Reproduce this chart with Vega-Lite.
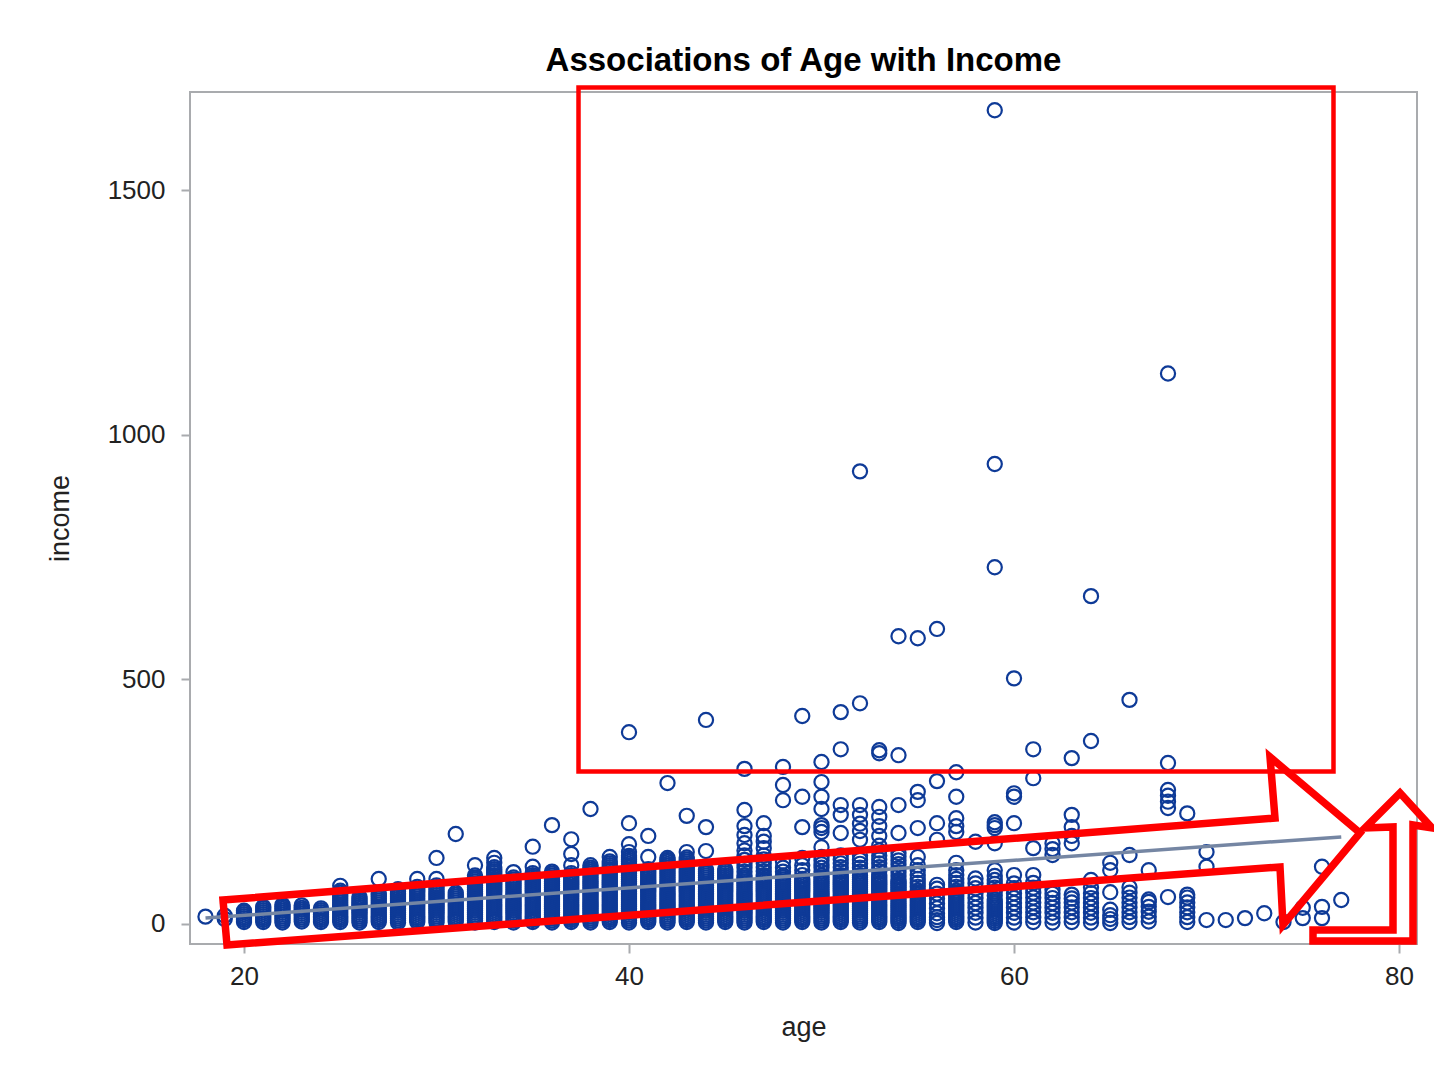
{
"$schema": "https://vega.github.io/schema/vega-lite/v6.json",
"width": 1227, "height": 852,
"autosize": {"type": "none"},
"padding": {"left": 190, "top": 92, "right": 17, "bottom": 124},
"background": "white",
"title": {"text": "Associations of Age with Income", "font": "Liberation Sans", "fontSize": 33, "fontWeight": "bold", "color": "black", "anchor": "middle", "frame": "group", "offset": 0},
"config": {
  "view": {"stroke": "#A9ABAE", "strokeWidth": 2},
  "axis": {"grid": false, "domain": false, "tickColor": "#A9ABAE", "tickWidth": 2, "tickSize": 9,
    "labelFont": "Liberation Sans", "labelFontSize": 26, "labelColor": "#222222",
    "titleFont": "Liberation Sans", "titleFontSize": 27, "titleFontWeight": "normal", "titleColor": "#222222"}
},
"datasets": {
"pts": [
{"age":18,"income":15},
{"age":19,"income":10},{"age":19,"income":17},
{"age":20,"income":4},{"age":20,"income":8},{"age":20,"income":12},{"age":20,"income":16},{"age":20,"income":20},{"age":20,"income":24},{"age":20,"income":27},
{"age":21,"income":4},{"age":21,"income":8},{"age":21,"income":12},{"age":21,"income":16},{"age":21,"income":20},{"age":21,"income":24},{"age":21,"income":28},{"age":21,"income":32},{"age":21,"income":35},
{"age":22,"income":3},{"age":22,"income":7},{"age":22,"income":11},{"age":22,"income":15},{"age":22,"income":19},{"age":22,"income":23},{"age":22,"income":27},{"age":22,"income":31},{"age":22,"income":35},{"age":22,"income":39},
{"age":23,"income":5},{"age":23,"income":9},{"age":23,"income":13},{"age":23,"income":17},{"age":23,"income":21},{"age":23,"income":25},{"age":23,"income":29},{"age":23,"income":33},{"age":23,"income":38},
{"age":24,"income":4},{"age":24,"income":8},{"age":24,"income":12},{"age":24,"income":16},{"age":24,"income":20},{"age":24,"income":24},{"age":24,"income":28},{"age":24,"income":32},
{"age":25,"income":4},{"age":25,"income":8},{"age":25,"income":12},{"age":25,"income":16},{"age":25,"income":20},{"age":25,"income":24},{"age":25,"income":28},{"age":25,"income":32},{"age":25,"income":36},{"age":25,"income":40},{"age":25,"income":44},{"age":25,"income":48},{"age":25,"income":52},{"age":25,"income":56},{"age":25,"income":60},{"age":25,"income":64},{"age":25,"income":68},{"age":25,"income":78},
{"age":26,"income":3},{"age":26,"income":7},{"age":26,"income":11},{"age":26,"income":15},{"age":26,"income":19},{"age":26,"income":23},{"age":26,"income":27},{"age":26,"income":31},{"age":26,"income":35},{"age":26,"income":39},{"age":26,"income":43},{"age":26,"income":47},{"age":26,"income":51},{"age":26,"income":55},
{"age":27,"income":4},{"age":27,"income":8},{"age":27,"income":12},{"age":27,"income":16},{"age":27,"income":20},{"age":27,"income":24},{"age":27,"income":28},{"age":27,"income":32},{"age":27,"income":36},{"age":27,"income":40},{"age":27,"income":44},{"age":27,"income":48},{"age":27,"income":52},{"age":27,"income":56},{"age":27,"income":60},{"age":27,"income":63},{"age":27,"income":92},
{"age":28,"income":3},{"age":28,"income":7},{"age":28,"income":11},{"age":28,"income":15},{"age":28,"income":19},{"age":28,"income":23},{"age":28,"income":27},{"age":28,"income":31},{"age":28,"income":35},{"age":28,"income":39},{"age":28,"income":43},{"age":28,"income":47},{"age":28,"income":51},{"age":28,"income":55},{"age":28,"income":59},{"age":28,"income":63},{"age":28,"income":67},{"age":28,"income":71},
{"age":29,"income":4},{"age":29,"income":8},{"age":29,"income":12},{"age":29,"income":16},{"age":29,"income":20},{"age":29,"income":24},{"age":29,"income":28},{"age":29,"income":32},{"age":29,"income":36},{"age":29,"income":40},{"age":29,"income":44},{"age":29,"income":48},{"age":29,"income":52},{"age":29,"income":56},{"age":29,"income":60},{"age":29,"income":64},{"age":29,"income":68},{"age":29,"income":72},{"age":29,"income":76},{"age":29,"income":92},
{"age":30,"income":3},{"age":30,"income":7},{"age":30,"income":11},{"age":30,"income":15},{"age":30,"income":19},{"age":30,"income":23},{"age":30,"income":27},{"age":30,"income":31},{"age":30,"income":35},{"age":30,"income":39},{"age":30,"income":43},{"age":30,"income":47},{"age":30,"income":51},{"age":30,"income":55},{"age":30,"income":59},{"age":30,"income":63},{"age":30,"income":67},{"age":30,"income":71},{"age":30,"income":75},{"age":30,"income":79},{"age":30,"income":92},{"age":30,"income":135},
{"age":31,"income":4},{"age":31,"income":8},{"age":31,"income":12},{"age":31,"income":16},{"age":31,"income":20},{"age":31,"income":24},{"age":31,"income":28},{"age":31,"income":32},{"age":31,"income":36},{"age":31,"income":40},{"age":31,"income":44},{"age":31,"income":48},{"age":31,"income":52},{"age":31,"income":56},{"age":31,"income":60},{"age":31,"income":64},{"age":31,"income":184},
{"age":32,"income":3},{"age":32,"income":7},{"age":32,"income":11},{"age":32,"income":15},{"age":32,"income":19},{"age":32,"income":23},{"age":32,"income":27},{"age":32,"income":31},{"age":32,"income":35},{"age":32,"income":39},{"age":32,"income":43},{"age":32,"income":47},{"age":32,"income":51},{"age":32,"income":55},{"age":32,"income":59},{"age":32,"income":63},{"age":32,"income":67},{"age":32,"income":71},{"age":32,"income":75},{"age":32,"income":79},{"age":32,"income":83},{"age":32,"income":87},{"age":32,"income":91},{"age":32,"income":95},{"age":32,"income":99},{"age":32,"income":120},
{"age":33,"income":4},{"age":33,"income":8},{"age":33,"income":12},{"age":33,"income":16},{"age":33,"income":20},{"age":33,"income":24},{"age":33,"income":28},{"age":33,"income":32},{"age":33,"income":36},{"age":33,"income":40},{"age":33,"income":44},{"age":33,"income":48},{"age":33,"income":52},{"age":33,"income":56},{"age":33,"income":60},{"age":33,"income":64},{"age":33,"income":68},{"age":33,"income":72},{"age":33,"income":76},{"age":33,"income":80},{"age":33,"income":84},{"age":33,"income":88},{"age":33,"income":92},{"age":33,"income":96},{"age":33,"income":100},{"age":33,"income":104},{"age":33,"income":108},{"age":33,"income":112},{"age":33,"income":116},{"age":33,"income":125},{"age":33,"income":135},
{"age":34,"income":3},{"age":34,"income":7},{"age":34,"income":11},{"age":34,"income":15},{"age":34,"income":19},{"age":34,"income":23},{"age":34,"income":27},{"age":34,"income":31},{"age":34,"income":35},{"age":34,"income":39},{"age":34,"income":43},{"age":34,"income":47},{"age":34,"income":51},{"age":34,"income":55},{"age":34,"income":59},{"age":34,"income":63},{"age":34,"income":67},{"age":34,"income":71},{"age":34,"income":75},{"age":34,"income":79},{"age":34,"income":83},{"age":34,"income":87},{"age":34,"income":91},{"age":34,"income":95},{"age":34,"income":106},
{"age":35,"income":4},{"age":35,"income":8},{"age":35,"income":12},{"age":35,"income":16},{"age":35,"income":20},{"age":35,"income":24},{"age":35,"income":28},{"age":35,"income":32},{"age":35,"income":36},{"age":35,"income":40},{"age":35,"income":44},{"age":35,"income":48},{"age":35,"income":52},{"age":35,"income":56},{"age":35,"income":60},{"age":35,"income":64},{"age":35,"income":68},{"age":35,"income":72},{"age":35,"income":76},{"age":35,"income":80},{"age":35,"income":84},{"age":35,"income":88},{"age":35,"income":92},{"age":35,"income":96},{"age":35,"income":100},{"age":35,"income":104},{"age":35,"income":117},{"age":35,"income":158},
{"age":36,"income":3},{"age":36,"income":7},{"age":36,"income":11},{"age":36,"income":15},{"age":36,"income":19},{"age":36,"income":23},{"age":36,"income":27},{"age":36,"income":31},{"age":36,"income":35},{"age":36,"income":39},{"age":36,"income":43},{"age":36,"income":47},{"age":36,"income":51},{"age":36,"income":55},{"age":36,"income":59},{"age":36,"income":63},{"age":36,"income":67},{"age":36,"income":71},{"age":36,"income":75},{"age":36,"income":79},{"age":36,"income":83},{"age":36,"income":87},{"age":36,"income":91},{"age":36,"income":95},{"age":36,"income":99},{"age":36,"income":103},{"age":36,"income":107},{"age":36,"income":202},
{"age":37,"income":4},{"age":37,"income":8},{"age":37,"income":12},{"age":37,"income":16},{"age":37,"income":20},{"age":37,"income":24},{"age":37,"income":28},{"age":37,"income":32},{"age":37,"income":36},{"age":37,"income":40},{"age":37,"income":44},{"age":37,"income":48},{"age":37,"income":52},{"age":37,"income":56},{"age":37,"income":60},{"age":37,"income":64},{"age":37,"income":68},{"age":37,"income":72},{"age":37,"income":76},{"age":37,"income":80},{"age":37,"income":84},{"age":37,"income":88},{"age":37,"income":92},{"age":37,"income":96},{"age":37,"income":100},{"age":37,"income":104},{"age":37,"income":120},{"age":37,"income":143},{"age":37,"income":173},
{"age":38,"income":3},{"age":38,"income":7},{"age":38,"income":11},{"age":38,"income":15},{"age":38,"income":19},{"age":38,"income":23},{"age":38,"income":27},{"age":38,"income":31},{"age":38,"income":35},{"age":38,"income":39},{"age":38,"income":43},{"age":38,"income":47},{"age":38,"income":51},{"age":38,"income":55},{"age":38,"income":59},{"age":38,"income":63},{"age":38,"income":67},{"age":38,"income":71},{"age":38,"income":75},{"age":38,"income":79},{"age":38,"income":83},{"age":38,"income":87},{"age":38,"income":91},{"age":38,"income":95},{"age":38,"income":99},{"age":38,"income":103},{"age":38,"income":107},{"age":38,"income":111},{"age":38,"income":115},{"age":38,"income":120},{"age":38,"income":235},
{"age":39,"income":4},{"age":39,"income":8},{"age":39,"income":12},{"age":39,"income":16},{"age":39,"income":20},{"age":39,"income":24},{"age":39,"income":28},{"age":39,"income":32},{"age":39,"income":36},{"age":39,"income":40},{"age":39,"income":44},{"age":39,"income":48},{"age":39,"income":52},{"age":39,"income":56},{"age":39,"income":60},{"age":39,"income":64},{"age":39,"income":68},{"age":39,"income":72},{"age":39,"income":76},{"age":39,"income":80},{"age":39,"income":84},{"age":39,"income":88},{"age":39,"income":92},{"age":39,"income":96},{"age":39,"income":100},{"age":39,"income":104},{"age":39,"income":108},{"age":39,"income":112},{"age":39,"income":116},{"age":39,"income":120},{"age":39,"income":124},{"age":39,"income":128},{"age":39,"income":137},
{"age":40,"income":3},{"age":40,"income":7},{"age":40,"income":11},{"age":40,"income":15},{"age":40,"income":19},{"age":40,"income":23},{"age":40,"income":27},{"age":40,"income":31},{"age":40,"income":35},{"age":40,"income":39},{"age":40,"income":43},{"age":40,"income":47},{"age":40,"income":51},{"age":40,"income":55},{"age":40,"income":59},{"age":40,"income":63},{"age":40,"income":67},{"age":40,"income":71},{"age":40,"income":75},{"age":40,"income":79},{"age":40,"income":83},{"age":40,"income":87},{"age":40,"income":91},{"age":40,"income":95},{"age":40,"income":99},{"age":40,"income":103},{"age":40,"income":107},{"age":40,"income":111},{"age":40,"income":115},{"age":40,"income":119},{"age":40,"income":123},{"age":40,"income":127},{"age":40,"income":131},{"age":40,"income":135},{"age":40,"income":139},{"age":40,"income":147},{"age":40,"income":163},{"age":40,"income":206},{"age":40,"income":392},
{"age":41,"income":4},{"age":41,"income":8},{"age":41,"income":12},{"age":41,"income":16},{"age":41,"income":20},{"age":41,"income":24},{"age":41,"income":28},{"age":41,"income":32},{"age":41,"income":36},{"age":41,"income":40},{"age":41,"income":44},{"age":41,"income":48},{"age":41,"income":52},{"age":41,"income":56},{"age":41,"income":60},{"age":41,"income":64},{"age":41,"income":68},{"age":41,"income":72},{"age":41,"income":76},{"age":41,"income":80},{"age":41,"income":84},{"age":41,"income":88},{"age":41,"income":92},{"age":41,"income":96},{"age":41,"income":100},{"age":41,"income":104},{"age":41,"income":108},{"age":41,"income":112},{"age":41,"income":137},{"age":41,"income":180},
{"age":42,"income":3},{"age":42,"income":7},{"age":42,"income":11},{"age":42,"income":15},{"age":42,"income":19},{"age":42,"income":23},{"age":42,"income":27},{"age":42,"income":31},{"age":42,"income":35},{"age":42,"income":39},{"age":42,"income":43},{"age":42,"income":47},{"age":42,"income":51},{"age":42,"income":55},{"age":42,"income":59},{"age":42,"income":63},{"age":42,"income":67},{"age":42,"income":71},{"age":42,"income":75},{"age":42,"income":79},{"age":42,"income":83},{"age":42,"income":87},{"age":42,"income":91},{"age":42,"income":95},{"age":42,"income":99},{"age":42,"income":103},{"age":42,"income":107},{"age":42,"income":111},{"age":42,"income":115},{"age":42,"income":119},{"age":42,"income":123},{"age":42,"income":127},{"age":42,"income":131},{"age":42,"income":135},{"age":42,"income":288},
{"age":43,"income":4},{"age":43,"income":8},{"age":43,"income":12},{"age":43,"income":16},{"age":43,"income":20},{"age":43,"income":24},{"age":43,"income":28},{"age":43,"income":32},{"age":43,"income":36},{"age":43,"income":40},{"age":43,"income":44},{"age":43,"income":48},{"age":43,"income":52},{"age":43,"income":56},{"age":43,"income":60},{"age":43,"income":64},{"age":43,"income":68},{"age":43,"income":72},{"age":43,"income":76},{"age":43,"income":80},{"age":43,"income":84},{"age":43,"income":88},{"age":43,"income":92},{"age":43,"income":96},{"age":43,"income":100},{"age":43,"income":104},{"age":43,"income":108},{"age":43,"income":112},{"age":43,"income":116},{"age":43,"income":120},{"age":43,"income":124},{"age":43,"income":128},{"age":43,"income":132},{"age":43,"income":136},{"age":43,"income":147},{"age":43,"income":221},
{"age":44,"income":3},{"age":44,"income":7},{"age":44,"income":11},{"age":44,"income":15},{"age":44,"income":19},{"age":44,"income":23},{"age":44,"income":27},{"age":44,"income":31},{"age":44,"income":35},{"age":44,"income":39},{"age":44,"income":43},{"age":44,"income":47},{"age":44,"income":51},{"age":44,"income":55},{"age":44,"income":59},{"age":44,"income":63},{"age":44,"income":67},{"age":44,"income":71},{"age":44,"income":75},{"age":44,"income":79},{"age":44,"income":83},{"age":44,"income":87},{"age":44,"income":91},{"age":44,"income":95},{"age":44,"income":99},{"age":44,"income":103},{"age":44,"income":107},{"age":44,"income":111},{"age":44,"income":149},{"age":44,"income":198},{"age":44,"income":417},
{"age":45,"income":4},{"age":45,"income":8},{"age":45,"income":12},{"age":45,"income":16},{"age":45,"income":20},{"age":45,"income":24},{"age":45,"income":28},{"age":45,"income":32},{"age":45,"income":36},{"age":45,"income":40},{"age":45,"income":44},{"age":45,"income":48},{"age":45,"income":52},{"age":45,"income":56},{"age":45,"income":60},{"age":45,"income":64},{"age":45,"income":68},{"age":45,"income":72},{"age":45,"income":76},{"age":45,"income":80},{"age":45,"income":84},{"age":45,"income":88},{"age":45,"income":92},{"age":45,"income":96},{"age":45,"income":100},{"age":45,"income":104},{"age":45,"income":108},{"age":45,"income":112},
{"age":46,"income":3},{"age":46,"income":7},{"age":46,"income":11},{"age":46,"income":15},{"age":46,"income":19},{"age":46,"income":23},{"age":46,"income":27},{"age":46,"income":31},{"age":46,"income":35},{"age":46,"income":39},{"age":46,"income":43},{"age":46,"income":47},{"age":46,"income":51},{"age":46,"income":55},{"age":46,"income":59},{"age":46,"income":63},{"age":46,"income":67},{"age":46,"income":71},{"age":46,"income":75},{"age":46,"income":79},{"age":46,"income":83},{"age":46,"income":87},{"age":46,"income":91},{"age":46,"income":95},{"age":46,"income":99},{"age":46,"income":107},{"age":46,"income":115},{"age":46,"income":123},{"age":46,"income":131},{"age":46,"income":140},{"age":46,"income":150},{"age":46,"income":165},{"age":46,"income":182},{"age":46,"income":200},{"age":46,"income":233},{"age":46,"income":317},
{"age":47,"income":4},{"age":47,"income":8},{"age":47,"income":12},{"age":47,"income":16},{"age":47,"income":20},{"age":47,"income":24},{"age":47,"income":28},{"age":47,"income":32},{"age":47,"income":36},{"age":47,"income":40},{"age":47,"income":44},{"age":47,"income":48},{"age":47,"income":52},{"age":47,"income":56},{"age":47,"income":60},{"age":47,"income":64},{"age":47,"income":68},{"age":47,"income":72},{"age":47,"income":76},{"age":47,"income":80},{"age":47,"income":84},{"age":47,"income":88},{"age":47,"income":92},{"age":47,"income":96},{"age":47,"income":100},{"age":47,"income":108},{"age":47,"income":116},{"age":47,"income":124},{"age":47,"income":132},{"age":47,"income":140},{"age":47,"income":155},{"age":47,"income":168},{"age":47,"income":180},{"age":47,"income":206},
{"age":48,"income":3},{"age":48,"income":7},{"age":48,"income":11},{"age":48,"income":15},{"age":48,"income":19},{"age":48,"income":23},{"age":48,"income":27},{"age":48,"income":31},{"age":48,"income":35},{"age":48,"income":39},{"age":48,"income":43},{"age":48,"income":47},{"age":48,"income":51},{"age":48,"income":55},{"age":48,"income":59},{"age":48,"income":63},{"age":48,"income":67},{"age":48,"income":71},{"age":48,"income":75},{"age":48,"income":79},{"age":48,"income":83},{"age":48,"income":87},{"age":48,"income":91},{"age":48,"income":95},{"age":48,"income":99},{"age":48,"income":107},{"age":48,"income":115},{"age":48,"income":127},{"age":48,"income":253},{"age":48,"income":284},{"age":48,"income":321},
{"age":49,"income":4},{"age":49,"income":8},{"age":49,"income":12},{"age":49,"income":16},{"age":49,"income":20},{"age":49,"income":24},{"age":49,"income":28},{"age":49,"income":32},{"age":49,"income":36},{"age":49,"income":40},{"age":49,"income":44},{"age":49,"income":48},{"age":49,"income":52},{"age":49,"income":56},{"age":49,"income":60},{"age":49,"income":64},{"age":49,"income":68},{"age":49,"income":72},{"age":49,"income":76},{"age":49,"income":80},{"age":49,"income":84},{"age":49,"income":88},{"age":49,"income":92},{"age":49,"income":100},{"age":49,"income":110},{"age":49,"income":120},{"age":49,"income":135},{"age":49,"income":198},{"age":49,"income":260},{"age":49,"income":425},
{"age":50,"income":3},{"age":50,"income":7},{"age":50,"income":11},{"age":50,"income":15},{"age":50,"income":19},{"age":50,"income":23},{"age":50,"income":27},{"age":50,"income":31},{"age":50,"income":35},{"age":50,"income":39},{"age":50,"income":43},{"age":50,"income":47},{"age":50,"income":51},{"age":50,"income":55},{"age":50,"income":59},{"age":50,"income":63},{"age":50,"income":67},{"age":50,"income":71},{"age":50,"income":75},{"age":50,"income":79},{"age":50,"income":83},{"age":50,"income":87},{"age":50,"income":91},{"age":50,"income":95},{"age":50,"income":99},{"age":50,"income":107},{"age":50,"income":115},{"age":50,"income":122},{"age":50,"income":130},{"age":50,"income":137},{"age":50,"income":157},{"age":50,"income":188},{"age":50,"income":196},{"age":50,"income":202},{"age":50,"income":235},{"age":50,"income":260},{"age":50,"income":290},{"age":50,"income":331},
{"age":51,"income":4},{"age":51,"income":8},{"age":51,"income":12},{"age":51,"income":16},{"age":51,"income":20},{"age":51,"income":24},{"age":51,"income":28},{"age":51,"income":32},{"age":51,"income":36},{"age":51,"income":40},{"age":51,"income":44},{"age":51,"income":48},{"age":51,"income":52},{"age":51,"income":56},{"age":51,"income":60},{"age":51,"income":64},{"age":51,"income":68},{"age":51,"income":72},{"age":51,"income":76},{"age":51,"income":80},{"age":51,"income":84},{"age":51,"income":88},{"age":51,"income":92},{"age":51,"income":96},{"age":51,"income":100},{"age":51,"income":108},{"age":51,"income":116},{"age":51,"income":124},{"age":51,"income":132},{"age":51,"income":140},{"age":51,"income":186},{"age":51,"income":223},{"age":51,"income":243},{"age":51,"income":357},{"age":51,"income":433},
{"age":52,"income":3},{"age":52,"income":7},{"age":52,"income":11},{"age":52,"income":15},{"age":52,"income":19},{"age":52,"income":23},{"age":52,"income":27},{"age":52,"income":31},{"age":52,"income":35},{"age":52,"income":39},{"age":52,"income":43},{"age":52,"income":47},{"age":52,"income":51},{"age":52,"income":55},{"age":52,"income":59},{"age":52,"income":63},{"age":52,"income":67},{"age":52,"income":71},{"age":52,"income":75},{"age":52,"income":79},{"age":52,"income":83},{"age":52,"income":87},{"age":52,"income":91},{"age":52,"income":95},{"age":52,"income":99},{"age":52,"income":107},{"age":52,"income":115},{"age":52,"income":123},{"age":52,"income":131},{"age":52,"income":140},{"age":52,"income":172},{"age":52,"income":190},{"age":52,"income":205},{"age":52,"income":223},{"age":52,"income":243},{"age":52,"income":451},{"age":52,"income":925},
{"age":53,"income":4},{"age":53,"income":8},{"age":53,"income":12},{"age":53,"income":16},{"age":53,"income":20},{"age":53,"income":24},{"age":53,"income":28},{"age":53,"income":32},{"age":53,"income":36},{"age":53,"income":40},{"age":53,"income":44},{"age":53,"income":48},{"age":53,"income":52},{"age":53,"income":56},{"age":53,"income":60},{"age":53,"income":64},{"age":53,"income":68},{"age":53,"income":72},{"age":53,"income":76},{"age":53,"income":80},{"age":53,"income":84},{"age":53,"income":88},{"age":53,"income":92},{"age":53,"income":96},{"age":53,"income":100},{"age":53,"income":108},{"age":53,"income":116},{"age":53,"income":124},{"age":53,"income":132},{"age":53,"income":140},{"age":53,"income":150},{"age":53,"income":160},{"age":53,"income":180},{"age":53,"income":200},{"age":53,"income":219},{"age":53,"income":239},{"age":53,"income":349},{"age":53,"income":355},
{"age":54,"income":2},{"age":54,"income":6},{"age":54,"income":10},{"age":54,"income":14},{"age":54,"income":18},{"age":54,"income":22},{"age":54,"income":26},{"age":54,"income":30},{"age":54,"income":34},{"age":54,"income":38},{"age":54,"income":42},{"age":54,"income":46},{"age":54,"income":50},{"age":54,"income":54},{"age":54,"income":58},{"age":54,"income":62},{"age":54,"income":66},{"age":54,"income":70},{"age":54,"income":74},{"age":54,"income":78},{"age":54,"income":82},{"age":54,"income":86},{"age":54,"income":90},{"age":54,"income":98},{"age":54,"income":106},{"age":54,"income":114},{"age":54,"income":122},{"age":54,"income":130},{"age":54,"income":138},{"age":54,"income":145},{"age":54,"income":186},{"age":54,"income":243},{"age":54,"income":345},{"age":54,"income":588},
{"age":55,"income":4},{"age":55,"income":8},{"age":55,"income":12},{"age":55,"income":16},{"age":55,"income":20},{"age":55,"income":24},{"age":55,"income":28},{"age":55,"income":32},{"age":55,"income":36},{"age":55,"income":40},{"age":55,"income":44},{"age":55,"income":48},{"age":55,"income":52},{"age":55,"income":56},{"age":55,"income":60},{"age":55,"income":64},{"age":55,"income":68},{"age":55,"income":76},{"age":55,"income":84},{"age":55,"income":92},{"age":55,"income":100},{"age":55,"income":110},{"age":55,"income":120},{"age":55,"income":137},{"age":55,"income":196},{"age":55,"income":253},{"age":55,"income":270},{"age":55,"income":584},
{"age":56,"income":2},{"age":56,"income":8},{"age":56,"income":14},{"age":56,"income":22},{"age":56,"income":32},{"age":56,"income":42},{"age":56,"income":52},{"age":56,"income":62},{"age":56,"income":72},{"age":56,"income":80},{"age":56,"income":172},{"age":56,"income":206},{"age":56,"income":292},{"age":56,"income":603},
{"age":57,"income":4},{"age":57,"income":8},{"age":57,"income":12},{"age":57,"income":16},{"age":57,"income":20},{"age":57,"income":24},{"age":57,"income":28},{"age":57,"income":32},{"age":57,"income":36},{"age":57,"income":40},{"age":57,"income":44},{"age":57,"income":48},{"age":57,"income":52},{"age":57,"income":56},{"age":57,"income":60},{"age":57,"income":64},{"age":57,"income":68},{"age":57,"income":76},{"age":57,"income":84},{"age":57,"income":92},{"age":57,"income":100},{"age":57,"income":110},{"age":57,"income":125},{"age":57,"income":188},{"age":57,"income":200},{"age":57,"income":216},{"age":57,"income":260},{"age":57,"income":310},
{"age":58,"income":3},{"age":58,"income":13},{"age":58,"income":23},{"age":58,"income":33},{"age":58,"income":43},{"age":58,"income":53},{"age":58,"income":63},{"age":58,"income":73},{"age":58,"income":83},{"age":58,"income":93},{"age":58,"income":168},
{"age":59,"income":2},{"age":59,"income":6},{"age":59,"income":10},{"age":59,"income":14},{"age":59,"income":18},{"age":59,"income":22},{"age":59,"income":26},{"age":59,"income":30},{"age":59,"income":34},{"age":59,"income":38},{"age":59,"income":42},{"age":59,"income":46},{"age":59,"income":50},{"age":59,"income":58},{"age":59,"income":66},{"age":59,"income":74},{"age":59,"income":82},{"age":59,"income":90},{"age":59,"income":98},{"age":59,"income":110},{"age":59,"income":165},{"age":59,"income":196},{"age":59,"income":202},{"age":59,"income":208},{"age":59,"income":729},{"age":59,"income":940},{"age":59,"income":1663},
{"age":60,"income":3},{"age":60,"income":13},{"age":60,"income":23},{"age":60,"income":33},{"age":60,"income":43},{"age":60,"income":53},{"age":60,"income":63},{"age":60,"income":73},{"age":60,"income":83},{"age":60,"income":100},{"age":60,"income":206},{"age":60,"income":260},{"age":60,"income":267},{"age":60,"income":502},
{"age":61,"income":4},{"age":61,"income":14},{"age":61,"income":24},{"age":61,"income":34},{"age":61,"income":44},{"age":61,"income":54},{"age":61,"income":64},{"age":61,"income":74},{"age":61,"income":84},{"age":61,"income":100},{"age":61,"income":155},{"age":61,"income":298},{"age":61,"income":357},
{"age":62,"income":3},{"age":62,"income":13},{"age":62,"income":23},{"age":62,"income":33},{"age":62,"income":43},{"age":62,"income":53},{"age":62,"income":62},{"age":62,"income":70},{"age":62,"income":141},{"age":62,"income":153},{"age":62,"income":165},
{"age":63,"income":4},{"age":63,"income":14},{"age":63,"income":24},{"age":63,"income":34},{"age":63,"income":44},{"age":63,"income":52},{"age":63,"income":60},{"age":63,"income":165},{"age":63,"income":180},{"age":63,"income":198},{"age":63,"income":223},{"age":63,"income":339},
{"age":64,"income":3},{"age":64,"income":13},{"age":64,"income":23},{"age":64,"income":33},{"age":64,"income":43},{"age":64,"income":53},{"age":64,"income":63},{"age":64,"income":75},{"age":64,"income":90},{"age":64,"income":374},{"age":64,"income":670},
{"age":65,"income":2},{"age":65,"income":10},{"age":65,"income":18},{"age":65,"income":29},{"age":65,"income":65},{"age":65,"income":110},{"age":65,"income":125},
{"age":66,"income":4},{"age":66,"income":14},{"age":66,"income":24},{"age":66,"income":34},{"age":66,"income":44},{"age":66,"income":54},{"age":66,"income":64},{"age":66,"income":75},{"age":66,"income":141},{"age":66,"income":458},
{"age":67,"income":5},{"age":67,"income":15},{"age":67,"income":25},{"age":67,"income":35},{"age":67,"income":45},{"age":67,"income":50},{"age":67,"income":110},
{"age":68,"income":55},{"age":68,"income":237},{"age":68,"income":250},{"age":68,"income":262},{"age":68,"income":274},{"age":68,"income":329},{"age":68,"income":1125},
{"age":69,"income":4},{"age":69,"income":14},{"age":69,"income":24},{"age":69,"income":34},{"age":69,"income":44},{"age":69,"income":54},{"age":69,"income":60},{"age":69,"income":226},
{"age":70,"income":8},{"age":70,"income":117},{"age":70,"income":147},
{"age":71,"income":8},
{"age":72,"income":12},
{"age":73,"income":22},
{"age":74,"income":4},
{"age":75,"income":12},{"age":75,"income":33},
{"age":76,"income":12},{"age":76,"income":35},{"age":76,"income":117},
{"age":77,"income":49}
],
"fit": [{"age":18,"income":12},{"age":77,"income":178}],
"ann": [
{"shape":"box","seq":0,"age":37.377,"income":1709.5},
{"shape":"box","seq":1,"age":76.597,"income":1709.5},
{"shape":"box","seq":2,"age":76.597,"income":311.6},
{"shape":"box","seq":3,"age":37.377,"income":311.6},
{"shape":"box","seq":4,"age":37.377,"income":1709.5},
{"shape":"arrow1","seq":0,"age":18.909,"income":49.05},
{"shape":"arrow1","seq":1,"age":73.558,"income":216.6},
{"shape":"arrow1","seq":2,"age":73.299,"income":341.3},
{"shape":"arrow1","seq":3,"age":77.974,"income":186.0},
{"shape":"arrow1","seq":4,"age":73.974,"income":-2.04},
{"shape":"arrow1","seq":5,"age":73.818,"income":116.5},
{"shape":"arrow1","seq":6,"age":19.117,"income":-42.9},
{"shape":"arrow1","seq":7,"age":18.909,"income":49.05},
{"shape":"arrow2","seq":0,"age":75.532,"income":-12.26},
{"shape":"arrow2","seq":1,"age":79.688,"income":-12.26},
{"shape":"arrow2","seq":2,"age":79.688,"income":198.2},
{"shape":"arrow2","seq":3,"age":78.234,"income":196.2},
{"shape":"arrow2","seq":4,"age":80.052,"income":267.7},
{"shape":"arrow2","seq":5,"age":81.714,"income":196.2},
{"shape":"arrow2","seq":6,"age":80.727,"income":202.3},
{"shape":"arrow2","seq":7,"age":80.727,"income":-34.7},
{"shape":"arrow2","seq":8,"age":75.532,"income":-34.7},
{"shape":"arrow2","seq":9,"age":75.532,"income":-12.26}
]
},
"encoding": {
  "x": {"field": "age", "type": "quantitative", "scale": {"domain": [17.195, 80.935], "nice": false, "zero": false},
        "axis": {"title": "age", "values": [20, 40, 60, 80], "format": "d", "labelPadding": 10, "titlePadding": 25}},
  "y": {"field": "income", "type": "quantitative", "scale": {"domain": [-40.9, 1700.3], "nice": false, "zero": false},
        "axis": {"title": "income", "values": [0, 500, 1000, 1500], "format": "d", "labelPadding": 16, "titlePadding": 33}}
},
"layer": [
  {"data": {"name": "pts"}, "mark": {"type": "point", "shape": "circle", "filled": false, "size": 200, "strokeWidth": 2.2, "color": "#0E3A97", "opacity": 1, "clip": true}},
  {"data": {"name": "fit"}, "mark": {"type": "line", "color": "#7586A3", "strokeWidth": 3.5, "clip": true}},
  {"data": {"name": "ann"}, "transform": [{"filter": "datum.shape === 'box'"}], "mark": {"type": "line", "color": "#FF0000", "strokeWidth": 4.5, "strokeJoin": "miter", "strokeCap": "square", "clip": false},
   "encoding": {"detail": {"field": "shape"}, "order": {"field": "seq", "type": "quantitative"}}},
  {"data": {"name": "ann"}, "transform": [{"filter": "datum.shape !== 'box'"}], "mark": {"type": "line", "color": "#FF0000", "strokeWidth": 7.5, "strokeJoin": "miter", "strokeMiterLimit": 10, "strokeCap": "square", "clip": false},
   "encoding": {"detail": {"field": "shape"}, "order": {"field": "seq", "type": "quantitative"}}}
]
}
